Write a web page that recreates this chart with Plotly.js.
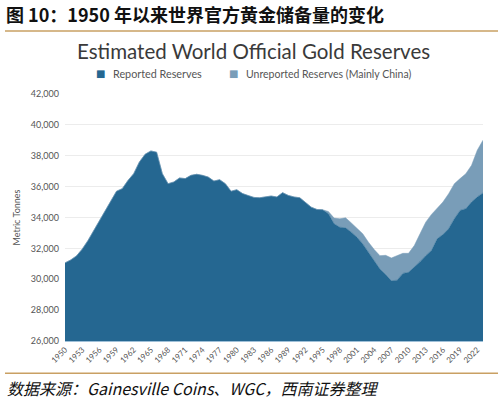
<!DOCTYPE html>
<html>
<head>
<meta charset="utf-8">
<script src="https://cdn.plot.ly/plotly-3.0.1.min.js"></script>
<style>html,body{margin:0;padding:0;background:#fff;}#chart{width:503px;height:403px;}</style>
</head>
<body>
<div id="chart"></div>
<script>
const years = [];
for (let y = 1950; y <= 2023; y++) years.push(y);

const reported = [
  31060, 31250, 31510, 31950, 32500, 33150, 33800, 34450, 35100, 35700,
  35870, 36400, 36840, 37600, 38100, 38310, 38230, 36840, 36190, 36300,
  36560, 36520, 36730, 36800, 36730, 36620, 36360, 36450, 36190, 35700,
  35800, 35550, 35420, 35300, 35280, 35350, 35390, 35330, 35610, 35430,
  35330, 35280, 35000, 34670, 34520, 34500, 34240, 33590, 33370, 33330,
  33050, 32720, 32290, 31750, 31200, 30660, 30300, 29900, 29940, 30380,
  30450, 30770, 31140, 31530, 31860, 32620, 32900, 33270, 33920, 34460,
  34570, 35000, 35330, 35590
];

const unreported = [
  0, 0, 0, 0, 0, 0, 0, 0, 0, 0,
  0, 0, 0, 0, 0, 0, 0, 0, 0, 0,
  0, 0, 0, 0, 0, 0, 0, 0, 0, 0,
  0, 0, 0, 0, 0, 0, 0, 0, 0, 0,
  0, 0, 0, 0, 0, 0, 150, 370, 550, 650,
  600, 590, 650, 650, 720, 870, 1250, 1480, 1590, 1300,
  1230, 1410, 1800, 2170, 2340, 1990, 2100, 2270, 2270, 2060,
  2270, 2380, 3030, 3420
];

const xTicks = [];
for (let y = 1950; y <= 2022; y += 3) xTicks.push(y);
const yTicks = [26000, 28000, 30000, 32000, 34000, 36000, 38000, 40000, 42000];

const seriesNames = ['Reported Reserves', 'Unreported Reserves (Mainly China)'];
const figTitle = '图 10：1950 年以来世界官方黄金储备量的变化';
const chartTitle = 'Estimated World Official Gold Reserves';
const sourceText = '数据来源：Gainesville Coins、WGC，西南证券整理';
const yTitle = 'Metric Tonnes';

const darkBlue = '#256791';
const lightBlue = '#799db8';

// pixel -> paper helpers (plot area: x 65..483, y 94..340.7)
const L = 65, R = 483, T = 94, B = 340.7;
const px = x => (x - L) / (R - L);
const py = y => (B - y) / (B - T);

const traces = [
  {
    x: years, y: reported, name: seriesNames[0], type: 'scatter', mode: 'lines',
    stackgroup: 'g', line: {color: darkBlue, width: 0.5}, fillcolor: darkBlue,
    hoverinfo: 'x+y'
  },
  {
    x: years, y: unreported, name: seriesNames[1], type: 'scatter', mode: 'lines',
    stackgroup: 'g', line: {color: lightBlue, width: 0.5}, fillcolor: lightBlue,
    hoverinfo: 'x+y'
  }
];

const cjk = '"Noto Sans CJK SC", "Noto Sans", sans-serif';
const lato = 'Lato, "Open Sans", sans-serif';

const layout = {
  width: 503, height: 403,
  paper_bgcolor: '#fff', plot_bgcolor: '#fff',
  margin: {l: L, r: 503 - R, t: T, b: 403 - B},
  showlegend: false,
  xaxis: {
    range: [1950, 2023], tickvals: xTicks, ticktext: xTicks.map(String),
    tickangle: -45, showgrid: false, zeroline: false,
    tickfont: {family: lato, size: 8, color: '#555'},
    showline: true, linecolor: '#9fc0d8', linewidth: 1, ticks: ''
  },
  yaxis: {
    range: [26000, 42000], tickvals: yTicks, ticktext: yTicks.map(v => v.toLocaleString('en-US')),
    showgrid: true, gridcolor: '#ececec', gridwidth: 1.2, zeroline: false,
    tickfont: {family: lato, size: 9, color: '#555'},
    ticks: '', ticklabelstandoff: 5,
    title: {text: yTitle, font: {family: lato, size: 9, color: '#555'}, standoff: 8}
  },
  annotations: [
    {text: '<b>' + figTitle + '</b>', xref: 'paper', yref: 'paper', x: px(4), y: py(14),
     xanchor: 'left', yanchor: 'middle', showarrow: false,
     font: {family: cjk, size: 18, color: '#111'}},
    {text: chartTitle, xref: 'paper', yref: 'paper', x: px(253), y: py(51),
     xanchor: 'center', yanchor: 'middle', showarrow: false,
     font: {family: lato, size: 20.5, color: '#3a3a3a', weight: 400}},
    {text: '■', xref: 'paper', yref: 'paper', x: px(100), y: py(74),
     xanchor: 'center', yanchor: 'middle', showarrow: false,
     font: {family: 'DejaVu Sans', size: 10, color: darkBlue}},
    {text: seriesNames[0], xref: 'paper', yref: 'paper', x: px(111), y: py(74),
     xanchor: 'left', yanchor: 'middle', showarrow: false,
     font: {family: lato, size: 10.8, color: '#555'}},
    {text: '■', xref: 'paper', yref: 'paper', x: px(233), y: py(74),
     xanchor: 'center', yanchor: 'middle', showarrow: false,
     font: {family: 'DejaVu Sans', size: 10, color: lightBlue}},
    {text: seriesNames[1], xref: 'paper', yref: 'paper', x: px(244), y: py(74),
     xanchor: 'left', yanchor: 'middle', showarrow: false,
     font: {family: lato, size: 10.5, color: '#555'}},
    {text: sourceText, xref: 'paper', yref: 'paper', x: px(5), y: py(388),
     xanchor: 'left', yanchor: 'middle', showarrow: false,
     font: {family: cjk, size: 16, color: '#111', style: 'italic'}}
  ],
  shapes: [
    {type: 'line', xref: 'paper', yref: 'paper', x0: px(5), x1: px(498), y0: py(31), y1: py(31),
     line: {color: '#c9a063', width: 1.5}},
    {type: 'line', xref: 'paper', yref: 'paper', x0: px(5), x1: px(498), y0: py(373), y1: py(373),
     line: {color: '#c9a063', width: 1.5}}
  ]
};

Plotly.newPlot('chart', traces, layout, {displayModeBar: false, staticPlot: true});
</script>
</body>
</html>
